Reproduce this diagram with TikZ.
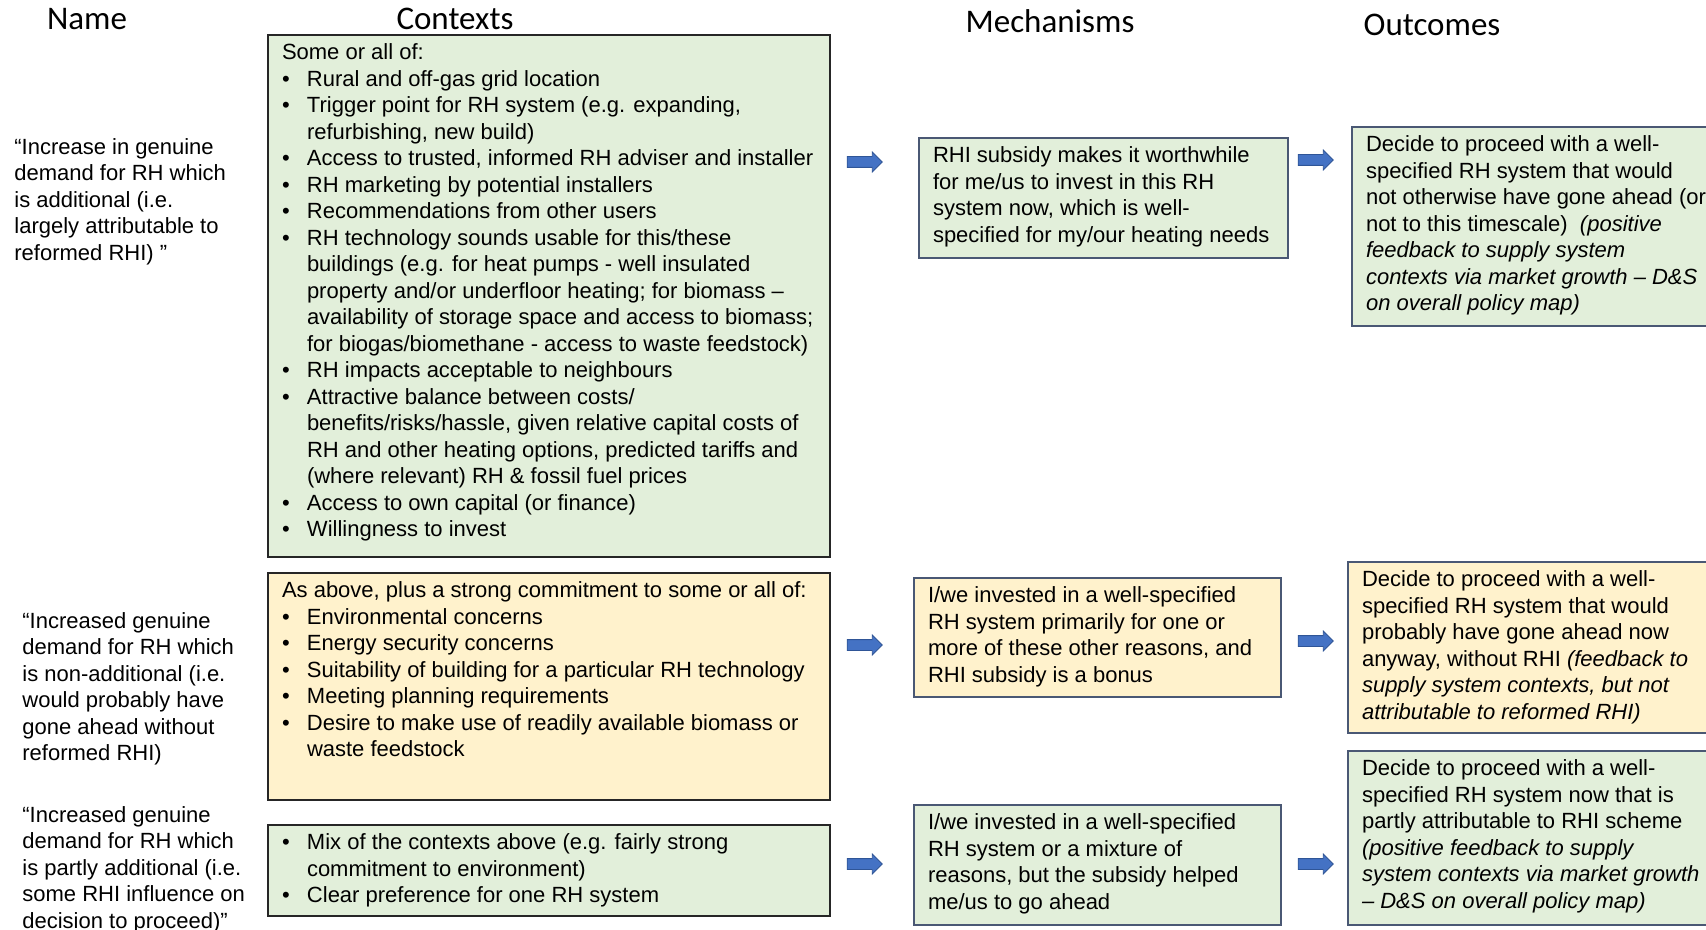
\documentclass[tikz,border=0pt]{standalone}
\usepackage{fontspec}
\setmainfont{Liberation Sans}
\newfontfamily\headfont{Carlito}
\usepackage{xcolor}
\usetikzlibrary{shapes.arrows}
\definecolor{ctxgreen}{HTML}{E2EFDA}
\definecolor{ctxyellow}{HTML}{FFF2CC}
\definecolor{boxedge}{HTML}{4A5874}
\definecolor{arrowblue}{HTML}{4472C4}
\definecolor{arrowedge}{HTML}{2F5597}
\newcommand{\bul}{\makebox[12.5pt][l]{\textbullet}}
\newcommand{\ind}{\hspace*{12.5pt}}
\newcommand{\boxtext}[3]{\parbox[t][#2][t]{#1}{\raggedright\strut #3}}

\begin{document}
\begin{tikzpicture}[x=0.5pt,y=-0.5pt,
  every node/.style={font=\fontsize{11pt}{13.25pt}\selectfont},
  head/.style={font=\headfont\fontsize{16.5pt}{20pt}\selectfont,anchor=base,inner sep=0pt},
  namebox/.style={anchor=north west,inner sep=0pt},
  ctxbox/.style={draw=black!85,line width=1pt,anchor=north west,inner xsep=7pt,inner ysep=3.2pt},
  mechbox/.style={draw=boxedge,line width=1pt,anchor=north west,inner xsep=7pt,inner ysep=3.2pt},
  greenfill/.style={fill=ctxgreen},
  yellowfill/.style={fill=ctxyellow},
  bigarrow/.style={single arrow,fill=arrowblue,draw=arrowedge,line width=0.4pt,
    text height=5pt,text depth=0pt,inner sep=0pt,
    minimum height=17.5pt,minimum width=9.5pt,single arrow head extend=2.25pt,
    single arrow head indent=0pt}]
\useasboundingbox (0,0) rectangle (1706,930);
\clip (0,0) rectangle (1706,930);

% column heads
\node[head] (hname) at (87,30) {Name};
\node[head] (hctx) at (455,30) {Contexts};
\node[head] (hmech) at (1050,33) {Mechanisms};
\node[head] (hout) at (1432,36) {Outcomes};

% names
\node[namebox] (name1) at (14,135.4) {\boxtext{125pt}{}{“Increase in genuine\\demand for RH which\\is additional (i.e.\\largely attributable to\\reformed RHI) ”}};
\node[namebox] (name2) at (22,609.4) {\boxtext{125pt}{}{“Increased genuine\\demand for RH which\\is non-additional (i.e.\\would probably have\\gone ahead without\\reformed RHI)}};
\node[namebox] (name3) at (22,803.4) {\boxtext{125pt}{}{“Increased genuine\\demand for RH which\\is partly additional (i.e.\\some RHI influence on\\decision to proceed)”}};

% contexts
\node[ctxbox,greenfill] (ctx1) at (267,34) {\boxtext{267pt}{254.6pt}{Some or all of:\\
\bul Rural and off-gas grid location\\
\bul Trigger point for RH system (e.g. expanding,\\
\ind refurbishing, new build)\\
\bul Access to trusted, informed RH adviser and installer\\
\bul RH marketing by potential installers\\
\bul Recommendations from other users\\
\bul RH technology sounds usable for this/these\\
\ind buildings (e.g. for heat pumps - well insulated\\
\ind property and/or underfloor heating; for biomass –\\
\ind availability of storage space and access to biomass;\\
\ind for biogas/biomethane - access to waste feedstock)\\
\bul RH impacts acceptable to neighbours\\
\bul Attractive balance between costs/\\
\ind benefits/risks/hassle, given relative capital costs of\\
\ind RH and other heating options, predicted tariffs and\\
\ind (where relevant) RH \& fossil fuel prices\\
\bul Access to own capital (or finance)\\
\bul Willingness to invest}};
\node[ctxbox,yellowfill] (ctx2) at (267,572) {\boxtext{267pt}{107.1pt}{As above, plus a strong commitment to some or all of:\\
\bul Environmental concerns\\
\bul Energy security concerns\\
\bul Suitability of building for a particular RH technology\\
\bul Meeting planning requirements\\
\bul Desire to make use of readily available biomass or\\
\ind waste feedstock}};
\node[ctxbox,greenfill] (ctx3) at (267,824) {\boxtext{267pt}{39.1pt}{\bul Mix of the contexts above (e.g. fairly strong\\
\ind commitment to environment)\\
\bul Clear preference for one RH system}};

% mechanisms
\node[mechbox,greenfill] (mech1) at (918,137) {\boxtext{170.5pt}{53.6pt}{RHI subsidy makes it worthwhile\\for me/us to invest in this RH\\system now, which is well-\\specified for my/our heating needs}};
\node[mechbox,yellowfill] (mech2) at (913,577) {\boxtext{169.5pt}{53.1pt}{I/we invested in a well-specified\\RH system primarily for one or\\more of these other reasons, and\\RHI subsidy is a bonus}};
\node[mechbox,greenfill] (mech3) at (913,804) {\boxtext{169.5pt}{53.6pt}{I/we invested in a well-specified\\RH system or a mixture of\\reasons, but the subsidy helped\\me/us to go ahead}};

% outcomes
\node[mechbox,greenfill] (out1) at (1351,126) {\boxtext{175.5pt}{93.1pt}{Decide to proceed with a well-\\specified RH system that would\\not otherwise have gone ahead (or\\not to this timescale)\ \ \textit{(positive\\feedback to supply system\\contexts via market growth – D\&S\\on overall policy map)}}};
\node[mechbox,yellowfill] (out2) at (1347,561) {\boxtext{177.5pt}{79.1pt}{Decide to proceed with a well-\\specified RH system that would\\probably have gone ahead now\\anyway, without RHI \textit{(feedback to\\supply system contexts, but not\\attributable to reformed RHI)}}};
\node[mechbox,greenfill] (out3) at (1347,750) {\boxtext{177.5pt}{80.6pt}{Decide to proceed with a well-\\specified RH system now that is\\partly attributable to RHI scheme\\\textit{(positive feedback to supply\\system contexts via market growth\\– D\&S on overall policy map)}}};

% arrows
\node[bigarrow] (a1) at (862,162) {};
\node[bigarrow] (b1) at (1313,160) {};
\node[bigarrow] (a2) at (862,645) {};
\node[bigarrow] (b2) at (1313,641) {};
\node[bigarrow] (a3) at (862,864) {};
\node[bigarrow] (b3) at (1313,864) {};
\end{tikzpicture}
\end{document}
